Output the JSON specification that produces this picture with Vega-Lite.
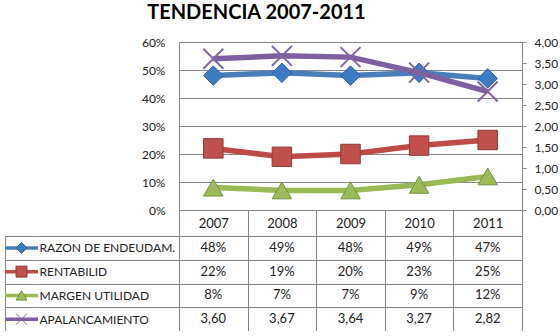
{
  "$schema": "https://vega.github.io/schema/vega-lite/v6.json",
  "padding": {"left": 3, "top": 3, "right": 0, "bottom": 0},
  "background": "white",
  "title": {"text": "TENDENCIA 2007-2011", "fontSize": 20, "fontWeight": "bold", "color": "#000000", "anchor": "middle", "dx": -24, "offset": 13},
  "config": {
    "font": "Lato",
    "view": {"stroke": null},
    "locale": {"number": {"decimal": ",", "thousands": ".", "grouping": [3], "currency": ["", " €"]}}
  },
  "data": {"values": [
    {"year": "2007", "series": "RAZON DE ENDEUDAM.", "value": 0.48},
    {"year": "2008", "series": "RAZON DE ENDEUDAM.", "value": 0.49},
    {"year": "2009", "series": "RAZON DE ENDEUDAM.", "value": 0.48},
    {"year": "2010", "series": "RAZON DE ENDEUDAM.", "value": 0.49},
    {"year": "2011", "series": "RAZON DE ENDEUDAM.", "value": 0.47},
    {"year": "2007", "series": "RENTABILID", "value": 0.22},
    {"year": "2008", "series": "RENTABILID", "value": 0.19},
    {"year": "2009", "series": "RENTABILID", "value": 0.20},
    {"year": "2010", "series": "RENTABILID", "value": 0.23},
    {"year": "2011", "series": "RENTABILID", "value": 0.25},
    {"year": "2007", "series": "MARGEN UTILIDAD", "value": 0.08},
    {"year": "2008", "series": "MARGEN UTILIDAD", "value": 0.07},
    {"year": "2009", "series": "MARGEN UTILIDAD", "value": 0.07},
    {"year": "2010", "series": "MARGEN UTILIDAD", "value": 0.09},
    {"year": "2011", "series": "MARGEN UTILIDAD", "value": 0.12},
    {"year": "2007", "series": "APALANCAMIENTO", "value": 3.60},
    {"year": "2008", "series": "APALANCAMIENTO", "value": 3.67},
    {"year": "2009", "series": "APALANCAMIENTO", "value": 3.64},
    {"year": "2010", "series": "APALANCAMIENTO", "value": 3.27},
    {"year": "2011", "series": "APALANCAMIENTO", "value": 2.82}
  ]},
  "columns": 3,
  "spacing": {"row": 26, "column": 0},
  "bounds": "flush",
  "align": "each",
  "concat": [
    {"width": 33, "height": 1, "transform": [{"filter": "false"}], "mark": {"type": "point", "opacity": 0}, "encoding": {}},
    {"width": 141, "height": 1, "transform": [{"filter": "false"}], "mark": {"type": "point", "opacity": 0}, "encoding": {}},
    {
      "width": 343, "height": 168,
      "layer": [
        {
          "transform": [{"filter": "datum.series != 'APALANCAMIENTO'"}],
          "encoding": {
            "x": {"field": "year", "type": "nominal", "scale": {"type": "band", "paddingInner": 0, "paddingOuter": 0},
                  "axis": {"orient": "bottom", "title": null, "tickBand": "extent", "tickSize": 26, "tickColor": "#868686", "domainColor": "#868686", "labelBaseline": "middle", "labelPadding": -13, "labelFontSize": 13, "labelColor": "#222222", "labelAngle": 0, "grid": false}},
            "y": {"field": "value", "type": "quantitative", "scale": {"domain": [0, 0.6], "nice": false},
                  "axis": {"orient": "left", "title": null, "values": [0, 0.1, 0.2, 0.3, 0.4, 0.5, 0.6], "format": ".0%", "grid": true, "gridColor": "#868686", "ticks": false, "tickSize": 0, "labelPadding": 14, "domainColor": "#868686", "labelFontSize": 12, "labelColor": "#222222"}}
          },
          "layer": [
            {"mark": {"type": "line", "strokeWidth": 5.5},
             "encoding": {"color": {"field": "series", "type": "nominal", "legend": null, "scale": {"domain": ["RAZON DE ENDEUDAM.", "RENTABILID", "MARGEN UTILIDAD", "APALANCAMIENTO"], "range": ["#4A7EBB", "#BE4B48", "#98B954", "#7D60A0"]}}}},
            {"mark": {"type": "point", "filled": true, "size": 380, "strokeWidth": 1, "opacity": 1},
             "encoding": {
               "shape": {"field": "series", "type": "nominal", "legend": null, "scale": {"domain": ["RAZON DE ENDEUDAM.", "RENTABILID", "MARGEN UTILIDAD", "APALANCAMIENTO"], "range": ["diamond", "square", "triangle-up", "M-1,-1L1,1M-1,1L1,-1"]}},
               "fill": {"field": "series", "type": "nominal", "legend": null, "scale": {"domain": ["RAZON DE ENDEUDAM.", "RENTABILID", "MARGEN UTILIDAD", "APALANCAMIENTO"], "range": ["#3D7BC2", "#C0504D", "#9BBB59", "#8064A2"]}},
               "stroke": {"field": "series", "type": "nominal", "legend": null, "scale": {"domain": ["RAZON DE ENDEUDAM.", "RENTABILID", "MARGEN UTILIDAD", "APALANCAMIENTO"], "range": ["#2C5F9A", "#8E3A38", "#76923C", "#8064A2"]}}
             }}
          ]
        },
        {
          "transform": [{"filter": "datum.series == 'APALANCAMIENTO'"}],
          "encoding": {
            "x": {"field": "year", "type": "nominal", "scale": {"type": "band", "paddingInner": 0, "paddingOuter": 0}},
            "y": {"field": "value", "type": "quantitative", "scale": {"domain": [0, 4], "nice": false},
                  "axis": {"orient": "right", "title": null, "values": [0, 0.5, 1, 1.5, 2, 2.5, 3, 3.5, 4], "format": ".2f", "grid": false, "tickSize": 4, "tickColor": "#868686", "labelPadding": 8, "domainColor": "#868686", "labelFontSize": 12, "labelColor": "#222222"}}
          },
          "layer": [
            {"mark": {"type": "line", "strokeWidth": 5.5},
             "encoding": {"color": {"field": "series", "type": "nominal", "legend": null, "scale": {"domain": ["RAZON DE ENDEUDAM.", "RENTABILID", "MARGEN UTILIDAD", "APALANCAMIENTO"], "range": ["#4A7EBB", "#BE4B48", "#98B954", "#7D60A0"]}}}},
            {"mark": {"type": "point", "filled": false, "size": 400, "strokeWidth": 2, "opacity": 1},
             "encoding": {
               "shape": {"field": "series", "type": "nominal", "legend": null, "scale": {"domain": ["RAZON DE ENDEUDAM.", "RENTABILID", "MARGEN UTILIDAD", "APALANCAMIENTO"], "range": ["diamond", "square", "triangle-up", "M-1,-1L1,1M-1,1L1,-1"]}},
               "stroke": {"field": "series", "type": "nominal", "legend": null, "scale": {"domain": ["RAZON DE ENDEUDAM.", "RENTABILID", "MARGEN UTILIDAD", "APALANCAMIENTO"], "range": ["#2C5F9A", "#8E3A38", "#76923C", "#8064A2"]}}
             }}
          ]
        }
      ],
      "resolve": {"scale": {"y": "independent"}}
    },
    {
      "width": 33, "height": 95,
      "transform": [{"filter": "datum.year == '2007'"}],
      "encoding": {
        "y": {"field": "series", "type": "nominal", "scale": {"domain": ["RAZON DE ENDEUDAM.", "RENTABILID", "MARGEN UTILIDAD", "APALANCAMIENTO"], "paddingInner": 0, "paddingOuter": 0},
              "axis": {"orient": "left", "title": null, "labels": false, "ticks": false, "domain": true, "domainColor": "#868686", "grid": true, "gridColor": "#868686", "tickBand": "extent"}}
      },
      "layer": [
        {"mark": {"type": "rule", "strokeWidth": 3.5},
         "encoding": {"color": {"field": "series", "type": "nominal", "legend": null, "scale": {"domain": ["RAZON DE ENDEUDAM.", "RENTABILID", "MARGEN UTILIDAD", "APALANCAMIENTO"], "range": ["#4A7EBB", "#BE4B48", "#98B954", "#7D60A0"]}}}},
        {"mark": {"type": "point", "filled": true, "size": 120, "strokeWidth": 1, "opacity": 1},
         "encoding": {
           "shape": {"field": "series", "type": "nominal", "legend": null, "scale": {"domain": ["RAZON DE ENDEUDAM.", "RENTABILID", "MARGEN UTILIDAD", "APALANCAMIENTO"], "range": ["diamond", "square", "triangle-up", "M-1,-1L1,1M-1,1L1,-1"]}},
           "fill": {"field": "series", "type": "nominal", "legend": null, "scale": {"domain": ["RAZON DE ENDEUDAM.", "RENTABILID", "MARGEN UTILIDAD", "APALANCAMIENTO"], "range": ["#3D7BC2", "#C0504D", "#9BBB59", "#8064A2"]}},
           "stroke": {"field": "series", "type": "nominal", "legend": null, "scale": {"domain": ["RAZON DE ENDEUDAM.", "RENTABILID", "MARGEN UTILIDAD", "APALANCAMIENTO"], "range": ["#2C5F9A", "#8E3A38", "#76923C", "#8064A2"]}}
         }}
      ]
    },
    {
      "width": 141, "height": 95,
      "transform": [{"filter": "datum.year == '2007'"}],
      "mark": {"type": "point", "opacity": 0},
      "encoding": {
        "y": {"field": "series", "type": "nominal", "scale": {"domain": ["RAZON DE ENDEUDAM.", "RENTABILID", "MARGEN UTILIDAD", "APALANCAMIENTO"], "paddingInner": 0, "paddingOuter": 0},
              "axis": {"orient": "left", "title": null, "labels": true, "labelAlign": "left", "labelPadding": -1, "ticks": false, "tickSize": 0, "domain": false, "grid": true, "gridColor": "#868686", "tickBand": "extent", "labelFontSize": 12, "labelColor": "#222222", "labelLimit": 0}}
      }
    },
    {
      "width": 343, "height": 95,
      "encoding": {
        "x": {"field": "year", "type": "nominal", "scale": {"type": "band", "paddingInner": 0, "paddingOuter": 0},
              "axis": {"orient": "top", "title": null, "labels": false, "ticks": false, "domain": false, "grid": true, "gridColor": "#868686", "tickBand": "extent"}},
        "y": {"field": "series", "type": "nominal", "scale": {"domain": ["RAZON DE ENDEUDAM.", "RENTABILID", "MARGEN UTILIDAD", "APALANCAMIENTO"], "paddingInner": 0, "paddingOuter": 0},
              "axis": {"orient": "left", "title": null, "labels": false, "ticks": false, "domain": false, "grid": true, "gridColor": "#868686", "tickBand": "extent"}}
      },
      "layer": [
        {"transform": [{"filter": "datum.series != 'APALANCAMIENTO'"}],
         "mark": {"type": "text", "fontSize": 13, "color": "#222222"},
         "encoding": {"text": {"field": "value", "type": "quantitative", "format": ".0%"}}},
        {"transform": [{"filter": "datum.series == 'APALANCAMIENTO'"}],
         "mark": {"type": "text", "fontSize": 13, "color": "#222222"},
         "encoding": {"text": {"field": "value", "type": "quantitative", "format": ".2f"}}}
      ]
    }
  ]
}
